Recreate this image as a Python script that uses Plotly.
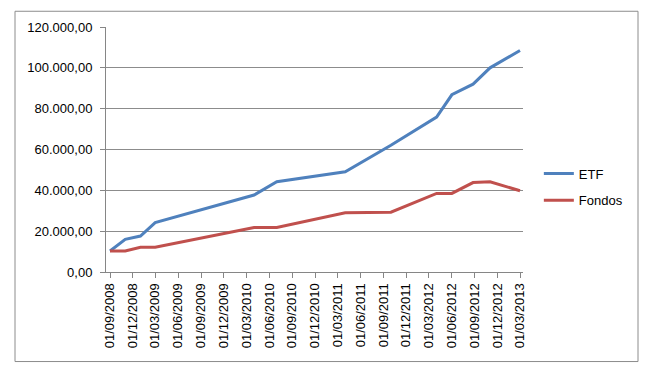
import plotly.graph_objects as go

dates = ["2008-09-01", "2008-11-01", "2009-01-01", "2009-03-01", "2010-04-01",
         "2010-07-01", "2011-04-01", "2011-10-01", "2012-04-01", "2012-06-01",
         "2012-08-25", "2012-11-01", "2013-03-01"]
etf = [10300, 16000, 17600, 24200, 37700, 44200, 49100, 62100, 75900, 86800,
       92000, 100000, 108500]
fondos = [10300, 10300, 12100, 12100, 21800, 21800, 29000, 29300, 38500, 38500,
          43800, 44200, 39800]

tick_dates = ["2008-09-01", "2008-12-01", "2009-03-01", "2009-06-01", "2009-09-01",
              "2009-12-01", "2010-03-01", "2010-06-01", "2010-09-01", "2010-12-01",
              "2011-03-01", "2011-06-01", "2011-09-01", "2011-12-01", "2012-03-01",
              "2012-06-01", "2012-09-01", "2012-12-01", "2013-03-01"]
tick_labels = ["01/09/2008", "01/12/2008", "01/03/2009", "01/06/2009", "01/09/2009",
               "01/12/2009", "01/03/2010", "01/06/2010", "01/09/2010", "01/12/2010",
               "01/03/2011", "01/06/2011", "01/09/2011", "01/12/2011", "01/03/2012",
               "01/06/2012", "01/09/2012", "01/12/2012", "01/03/2013"]
y_ticks = [0, 20000, 40000, 60000, 80000, 100000, 120000]

font = "Liberation Sans"
fig = go.Figure()
fig.add_trace(go.Scatter(x=dates, y=etf, mode="lines", name="ETF", legendgroup="a",
                         line=dict(color="#4F81BD", width=3)))
fig.add_trace(go.Scatter(x=dates, y=fondos, mode="lines", name="Fondos", legendgroup="b",
                         line=dict(color="#C0504D", width=3)))

# page body has an 8px margin, so the figure is drawn 8px smaller and offset
fig.update_layout(
    width=651, height=369,
    margin=dict(l=98, r=136, t=15, b=105),
    paper_bgcolor="white", plot_bgcolor="white",
    separators=",.",
    font=dict(family=font, size=13, color="#000000"),
    showlegend=True,
    legend=dict(x=1.038, y=0.347, xanchor="left", yanchor="middle",
                font=dict(family=font, size=13), itemwidth=30,
                bgcolor="rgba(0,0,0,0)", tracegroupgap=7),
    xaxis=dict(type="date", range=["2008-08-16", "2013-03-13"],
               tickmode="array", tickvals=tick_dates, ticktext=tick_labels,
               tickangle=-90, ticks="outside", ticklen=5, tickcolor="#868686",
               showline=True, linecolor="#868686", linewidth=1,
               showgrid=False, zeroline=False,
               tickfont=dict(family=font, size=13)),
    yaxis=dict(range=[0, 120000], tickmode="array", tickvals=y_ticks,
               tickformat=",.2f", ticks="outside", ticklen=5, tickcolor="#868686",
               ticklabelstandoff=5,
               showline=True, linecolor="#868686", linewidth=1,
               showgrid=True, gridcolor="#8C8C8C", gridwidth=1,
               zeroline=False, tickfont=dict(family=font, size=13)),
)
fig.add_shape(type="rect", xref="paper", yref="paper",
              x0=(15 - 106) / 417, x1=(638 - 106) / 417,
              y0=(272 - 363) / 249, y1=(272 - 7) / 249,
              line=dict(color="#8C8C8C", width=1), fillcolor="rgba(0,0,0,0)",
              layer="below")

fig.write_html("out.html")
